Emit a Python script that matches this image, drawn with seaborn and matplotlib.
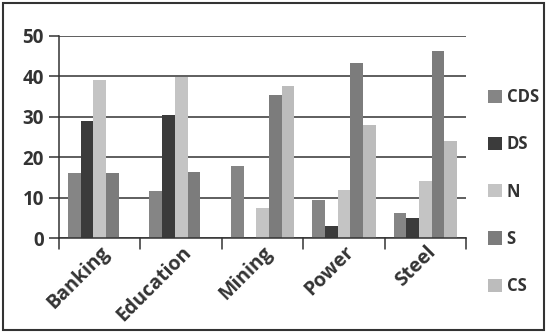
import matplotlib
matplotlib.use("Agg")
import matplotlib.pyplot as plt
import seaborn as sns
import pandas as pd
from matplotlib.patches import Rectangle

sectors = ["Banking", "Education", "Mining", "Power", "Steel"]
series = ["CDS", "DS", "N", "S", "CS"]
cds = [16, 11.6, 17.8, 9.4, 6.2]
ds = [29, 30.4, 0, 3, 5]
n = [39, 39.8, 7.4, 12, 14]
s = [16, 16.3, 35.4, 43.3, 46.3]
cs = [0, 0, 37.6, 28, 24]
colors = ["#858585", "#3b3b3b", "#c4c4c4", "#7c7c7c", "#bcbcbc"]

rows = []
for name, vals in zip(series, [cds, ds, n, s, cs]):
    for sec, v in zip(sectors, vals):
        rows.append({"Sector": sec, "Series": name, "Value": v})
df = pd.DataFrame(rows)

sns.set_style("white")
plt.rcParams["font.family"] = ["Open Sans", "DejaVu Sans"]

fig = plt.figure(figsize=(5.47, 3.33), dpi=100)
ax = fig.add_axes([0.108, 0.285, 0.744, 0.607])

sns.barplot(data=df, x="Sector", y="Value", hue="Series", hue_order=series,
            palette=colors, width=0.78, saturation=1, ax=ax, legend=False,
            linewidth=0)

ax.set_ylim(0, 50)
ax.set_xlim(-0.5, 4.5)
ax.set_yticks([0, 10, 20, 30, 40, 50])
ax.yaxis.grid(True, color="#333333", linewidth=1.1)
ax.set_axisbelow(True)
ax.set_xlabel("")
ax.set_ylabel("")

for side in ["top", "right"]:
    ax.spines[side].set_visible(False)
for side in ["left", "bottom"]:
    ax.spines[side].set_color("#333333")
    ax.spines[side].set_linewidth(1.1)

ax.tick_params(axis="y", length=7, width=1.1, color="#333333", pad=4,
               labelsize=13.5, left=True)
ax.tick_params(axis="x", length=0, pad=3, labelsize=14)
for lbl in ax.get_yticklabels():
    lbl.set_fontweight("bold")
    lbl.set_color("#333333")
ax.set_xticks(range(len(sectors)))
ax.set_xticklabels(sectors, rotation=45, ha="right", rotation_mode="anchor",
                   fontweight="bold", color="#333333")

# group separator ticks below the axis
for b in [-0.5, 0.5, 1.5, 2.5, 3.5, 4.5]:
    ax.plot([b, b], [0, -2.6], color="#333333", linewidth=1.1, clip_on=False)

handles = [Rectangle((0, 0), 1, 1, facecolor=c, edgecolor="none") for c in colors]
leg = fig.legend(handles, series, loc="upper left", bbox_to_anchor=(0.87, 0.77),
                 frameon=False, handlelength=0.85, handleheight=0.85,
                 handletextpad=0.3, labelspacing=1.75, borderpad=0.2,
                 prop={"weight": "bold", "size": 12})
for t in leg.get_texts():
    t.set_color("#333333")

fig.patches.append(Rectangle((0.006, 0.008), 0.988, 0.982, transform=fig.transFigure,
                             fill=False, edgecolor="#333333", linewidth=1.5))

fig.savefig("out.png", dpi=100)
